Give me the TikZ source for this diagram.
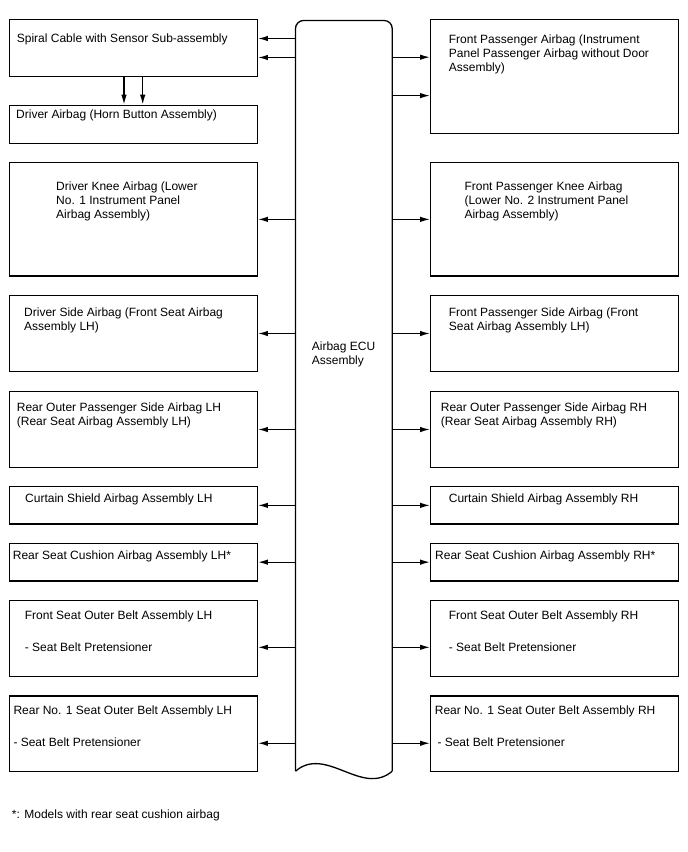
\documentclass[tikz,border=0pt]{standalone}
\usepackage{fontspec}
\setmainfont{Liberation Sans}
\usepackage{tikz}
\usetikzlibrary{arrows.meta, positioning, calc}
\tikzset{
  blk/.style   = {draw, line width=1.3pt, inner sep=0pt, minimum width=248pt},
  ecubox/.style = {inner sep=0pt, minimum width=96.3pt, minimum height=750.3pt},
  edge/.style  = {line width=1.3pt},
  flow/.style  = {-{Latex[length=10pt, width=5.5pt]}, line width=1.3pt},
  lbl/.style   = {anchor=north west, inner sep=0pt, align=left,
                  font=\fontsize{12}{14}\selectfont},
}

\begin{document}
\begin{tikzpicture}[x=1pt, y=-1pt]
    \useasboundingbox (0,0) rectangle (688,852);

    % left column
    \node[blk, minimum height=57pt]   (spiral) at (133.3,47.8)  {};
    \node[blk, minimum height=38pt]   (driver) at (133.3,124.3) {};
    \node[blk, minimum height=113.3pt](kneeL)  at (133.3,219.35) {};
    \node[blk, minimum height=75.6pt] (sideL)  at (133.3,333.5) {};
    \node[blk, minimum height=75.6pt] (routL)  at (133.3,429.5) {};
    \node[blk, minimum height=37.5pt] (curtL)  at (133.3,505.35) {};
    \node[blk, minimum height=37.7pt] (cushL)  at (133.3,562.15) {};
    \node[blk, minimum height=76pt]   (fseatL) at (133.3,638.7) {};
    \node[blk, minimum height=75.7pt] (rearL)  at (133.3,733.85) {};

    % right column
    \node[blk, minimum height=114pt]  (fpass)  at (554.7,76.3)  {};
    \node[blk, minimum height=113.3pt](kneeR)  at (554.7,219.35) {};
    \node[blk, minimum height=75.6pt] (sideR)  at (554.7,333.5) {};
    \node[blk, minimum height=75.6pt] (routR)  at (554.7,429.5) {};
    \node[blk, minimum height=37.5pt] (curtR)  at (554.7,505.35) {};
    \node[blk, minimum height=37.7pt] (cushR)  at (554.7,562.15) {};
    \node[blk, minimum height=76pt]   (fseatR) at (554.7,638.7) {};
    \node[blk, minimum height=75.7pt] (rearR)  at (554.7,733.85) {};

    % airbag ECU
    \node[ecubox] (ecu) at (343.85,395.85) {};
    \draw[edge, rounded corners=8pt] (ecu.south west) -- (ecu.north west)
      -- (ecu.north east) -- (ecu.south east);
    \draw[edge] (ecu.south east) .. controls (362,797) and (326,745) .. (ecu.south west);
    \node[lbl] (ecu-txt) at (311.7,341.7) {Airbag ECU\\Assembly};

    % texts
    \node[lbl] (spiral-txt) at (16.7,34)   {Spiral Cable with Sensor Sub-assembly};
    \node[lbl] (driver-txt) at (16,109.3)  {Driver Airbag (Horn Button Assembly)};
    \node[lbl] (kneeL-txt)  at (56,181.3)  {Driver Knee Airbag (Lower\\No. 1 Instrument Panel\\Airbag Assembly)};
    \node[lbl] (sideL-txt)  at (24,308)    {Driver Side Airbag (Front Seat Airbag\\Assembly LH)};
    \node[lbl] (routL-txt)  at (16.7,402.7) {Rear Outer Passenger Side Airbag LH\\(Rear Seat Airbag Assembly LH)};
    \node[lbl] (curtL-txt)  at (25,494)    {Curtain Shield Airbag Assembly LH};
    \node[lbl] (cushL-txt)  at (12.7,551)  {Rear Seat Cushion Airbag Assembly LH*};
    \node[lbl] (fseatL-txt) at (24.7,610.7) {Front Seat Outer Belt Assembly LH\\[17.7pt]- Seat Belt Pretensioner};
    \node[lbl] (rearL-txt)  at (13.3,706)  {Rear No. 1 Seat Outer Belt Assembly LH\\[17.7pt]- Seat Belt Pretensioner};

    \node[lbl] (fpass-txt)  at (448.7,34.3) {Front Passenger Airbag (Instrument\\Panel Passenger Airbag without Door\\Assembly)};
    \node[lbl] (kneeR-txt)  at (464.3,181.3) {Front Passenger Knee Airbag\\(Lower No. 2 Instrument Panel\\Airbag Assembly)};
    \node[lbl] (sideR-txt)  at (448.7,308) {Front Passenger Side Airbag (Front\\Seat Airbag Assembly LH)};
    \node[lbl] (routR-txt)  at (440.7,402.7) {Rear Outer Passenger Side Airbag RH\\(Rear Seat Airbag Assembly RH)};
    \node[lbl] (curtR-txt)  at (448.7,494) {Curtain Shield Airbag Assembly RH};
    \node[lbl] (cushR-txt)  at (435,551)   {Rear Seat Cushion Airbag Assembly RH*};
    \node[lbl] (fseatR-txt) at (448.7,610.7) {Front Seat Outer Belt Assembly RH\\[17.7pt]- Seat Belt Pretensioner};
    \node[lbl] (rearR-txt)  at (434.7,706) {Rear No. 1 Seat Outer Belt Assembly RH\\[17.7pt]\hspace{2.6pt}- Seat Belt Pretensioner};

    \node[lbl] (note) at (11.7,810) {*: Models with rear seat cushion airbag};

    % connectors
    \coordinate (spiral-a) at ([yshift=9.3pt]spiral.east);
    \coordinate (spiral-b) at ([yshift=-9.7pt]spiral.east);
    \coordinate (fpass-a)  at ([yshift=19.1pt]fpass.west);
    \coordinate (fpass-b)  at ([yshift=-19.3pt]fpass.west);
    \coordinate (fseatL-in) at ([yshift=-8.6pt]fseatL.east);
    \coordinate (fseatR-in) at ([yshift=-8.6pt]fseatR.west);
    \coordinate (rearL-in) at ([yshift=-9.4pt]rearL.east);
    \coordinate (rearR-in) at ([yshift=-9.4pt]rearR.west);
    \coordinate (down-a) at ([xshift=-9.3pt]spiral.south);
    \coordinate (down-b) at ([xshift=9.4pt]spiral.south);

    \draw[flow] (ecu.west |- spiral-a) -- (spiral-a);
    \draw[flow] (ecu.west |- spiral-b) -- (spiral-b);
    \draw[flow] (down-a) -- (down-a |- driver.north);
    \draw[flow] (down-b) -- (down-b |- driver.north);
    \draw[flow] (ecu.west |- kneeL.east) -- (kneeL.east);
    \draw[flow] (ecu.west |- sideL.east) -- (sideL.east);
    \draw[flow] (ecu.west |- routL.east) -- (routL.east);
    \draw[flow] (ecu.west |- curtL.east) -- (curtL.east);
    \draw[flow] (ecu.west |- cushL.east) -- (cushL.east);
    \draw[flow] (ecu.west |- fseatL-in) -- (fseatL-in);
    \draw[flow] (ecu.west |- rearL-in) -- (rearL-in);

    \draw[flow] (ecu.east |- fpass-a) -- (fpass-a);
    \draw[flow] (ecu.east |- fpass-b) -- (fpass-b);
    \draw[flow] (ecu.east |- kneeR.west) -- (kneeR.west);
    \draw[flow] (ecu.east |- sideR.west) -- (sideR.west);
    \draw[flow] (ecu.east |- routR.west) -- (routR.west);
    \draw[flow] (ecu.east |- curtR.west) -- (curtR.west);
    \draw[flow] (ecu.east |- cushR.west) -- (cushR.west);
    \draw[flow] (ecu.east |- fseatR-in) -- (fseatR-in);
    \draw[flow] (ecu.east |- rearR-in) -- (rearR-in);
  \end{tikzpicture}
\end{document}
